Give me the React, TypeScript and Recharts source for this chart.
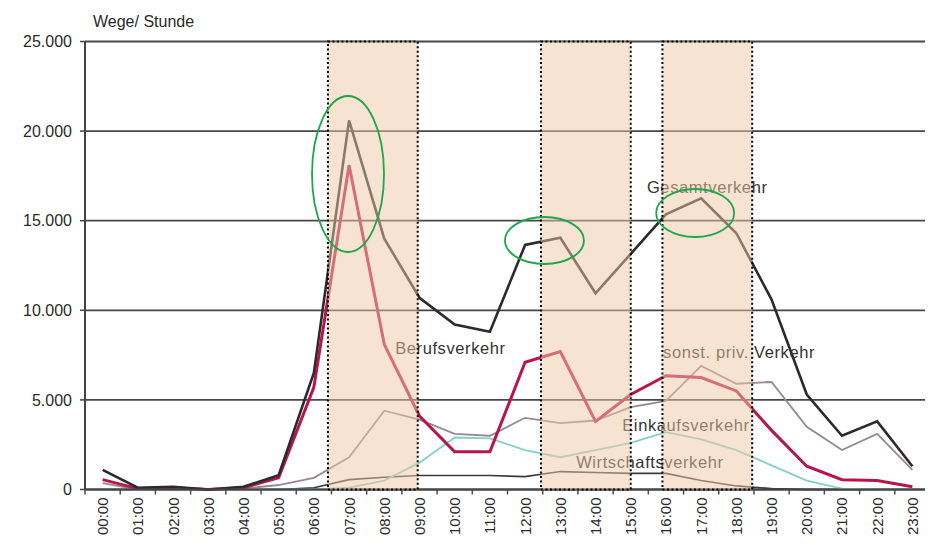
import React from 'react';
import {
  LineChart,
  Line,
  XAxis,
  YAxis,
  CartesianGrid,
  ReferenceArea,
  ReferenceDot,
} from 'recharts';

// ---- data ----
const hours = [
  '00:00', '01:00', '02:00', '03:00', '04:00', '05:00', '06:00', '07:00',
  '08:00', '09:00', '10:00', '11:00', '12:00', '13:00', '14:00', '15:00',
  '16:00', '17:00', '18:00', '19:00', '20:00', '21:00', '22:00', '23:00',
];
const gesamtverkehr = [1100, 100, 150, 0, 150, 800, 6500, 20600, 14000, 10700, 9200, 8800, 13650, 14050, 10950, 13150, 15350, 16250, 14300, 10600, 5300, 3000, 3800, 1300];
const berufsverkehr = [550, 50, 100, 0, 100, 650, 5700, 18100, 8100, 4100, 2100, 2100, 7100, 7700, 3800, 5300, 6350, 6250, 5500, 3300, 1300, 550, 500, 150];
const sonstPrivVerkehr = [350, 0, 50, 0, 50, 250, 650, 1800, 4400, 3900, 3100, 3000, 4000, 3700, 3850, 4600, 4950, 6900, 5900, 6000, 3500, 2200, 3100, 1100];
const einkaufsverkehr = [0, 0, 0, 0, 0, 0, 0, 100, 500, 1500, 2900, 2850, 2200, 1800, 2200, 2600, 3200, 2800, 2200, 1350, 500, 50, 0, 0];
const wirtschaftsverkehr = [0, 0, 0, 0, 0, 0, 100, 550, 680, 780, 780, 780, 720, 1000, 950, 900, 900, 500, 200, 50, 0, 0, 0, 0];

const yTicks = [0, 5000, 10000, 15000, 20000, 25000];

// highlighted periods (hour positions)
const periods = [
  [6.4, 8.95],
  [12.45, 15.0],
  [15.9, 18.45],
];

// series name labels: [text, hour, value]
const seriesLabels: [string, number, number][] = [
  ['Berufsverkehr', 8.31, 7560],
  ['Gesamtverkehr', 15.46, 16545],
  ['sonst. priv. Verkehr', 15.92, 7340],
  ['Einkaufsverkehr', 14.76, 3265],
  ['Wirtschaftsverkehr', 13.45, 1200],
];

// green ellipses: [hour, value, rx, ry]
const ellipses: [number, number, number, number][] = [
  [6.97, 17606, 36, 78],
  [12.55, 13895, 39.5, 23.5],
  [16.83, 15430, 39, 24],
];

const data = hours.map((label, i) => ({
  h: i,
  label,
  gesamt: gesamtverkehr[i],
  beruf: berufsverkehr[i],
  sonst: sonstPrivVerkehr[i],
  einkauf: einkaufsverkehr[i],
  wirtschaft: wirtschaftsverkehr[i],
}));

const xTicks: number[] = [];
for (let i = -1; i < hours.length; i++) {
  xTicks.push(i + 0.5);
  if (i + 1 < hours.length) xTicks.push(i + 1);
}
xTicks.sort((a, b) => a - b);

const FONT = '"Liberation Sans", Arial, sans-serif';

const fmtDe = (v: number) => {
  const s = String(Math.round(v));
  return s.replace(/\B(?=(\d{3})+(?!\d))/g, '.');
};

const XTick = (props: any) => {
  const { x, y, payload } = props;
  const v = payload.value as number;
  if (Math.abs(v - Math.round(v)) > 0.01) {
    return <line x1={x} x2={x} y1={y} y2={y + 5} stroke="#4a4a4a" strokeWidth={1.5} />;
  }
  const ty = y + 8;
  return (
    <text
      x={x}
      y={ty}
      transform={`rotate(-90, ${x}, ${ty})`}
      textAnchor="end"
      dominantBaseline="central"
      fontSize={15}
      fontFamily={FONT}
      fill="#2a2a2a"
    >
      {hours[Math.round(v)]}
    </text>
  );
};

export default function App() {
  return (
    <div style={{ position: 'relative', width: 925, height: 541 }}>
      <div
        style={{
          position: 'absolute',
          left: 85,
          top: 6,
          fontFamily: FONT,
          fontSize: 16,
          lineHeight: '16px',
          color: '#2a2a2a',
          whiteSpace: 'nowrap',
        }}
      >
        Wege/ Stunde
      </div>
      <LineChart
        width={925}
        height={541}
        data={data}
        margin={{ top: 33.5, right: 3, bottom: 4.5, left: 7 }}
      >
        <CartesianGrid vertical={false} stroke="#474747" strokeWidth={1.8} />
        <XAxis
          dataKey="h"
          type="number"
          domain={[-0.5, 23.5]}
          ticks={xTicks}
          interval={0}
          tick={<XTick />}
          tickLine={false}
          tickSize={0}
          tickMargin={0}
          height={55}
          axisLine={{ stroke: '#444', strokeWidth: 2 }}
        />
        <YAxis
          type="number"
          domain={[0, 25000]}
          ticks={yTicks}
          interval={0}
          width={70}
          tickFormatter={fmtDe}
          tick={{ fontSize: 16, fontFamily: FONT, fill: '#2a2a2a' }}
          tickSize={5}
          tickMargin={8}
          tickLine={{ stroke: '#444', strokeWidth: 1.5 }}
          axisLine={{ stroke: '#444', strokeWidth: 2 }}
        />
        <Line dataKey="wirtschaft" type="linear" stroke="#3b3b3b" strokeWidth={1.6} dot={false} isAnimationActive={false} />
        <Line dataKey="einkauf" type="linear" stroke="#86cfc6" strokeWidth={1.8} dot={false} isAnimationActive={false} />
        <Line dataKey="sonst" type="linear" stroke="#978892" strokeWidth={1.8} dot={false} isAnimationActive={false} />
        <Line dataKey="beruf" type="linear" stroke="#b8164a" strokeWidth={3} dot={false} isAnimationActive={false} />
        <Line dataKey="gesamt" type="linear" stroke="#2b2b2b" strokeWidth={2.6} dot={false} isAnimationActive={false} />
        {seriesLabels.map(([text, hx, val]) => (
          <ReferenceDot
            key={text}
            x={hx}
            y={val}
            r={0}
            zIndex={700}
            shape={(p: any) => (
              <text
                x={p.cx}
                y={p.cy}
                fontSize={16.5}
                letterSpacing={0.6}
                fontFamily={FONT}
                fill="#333"
              >
                {text}
              </text>
            )}
          />
        ))}
        {periods.map(([a, b], i) => (
          <ReferenceArea
            key={'p' + i}
            x1={a}
            x2={b}
            y1={0}
            y2={25000}
            zIndex={800}
            fill="#f0c7a3"
            fillOpacity={0.5}
            stroke="#000"
            strokeWidth={2}
            strokeDasharray="2 2.5"
          />
        ))}
        {ellipses.map(([hx, val, rx, ry], i) => (
          <ReferenceDot
            key={'e' + i}
            x={hx}
            y={val}
            r={0}
            zIndex={900}
            shape={(p: any) => (
              <ellipse cx={p.cx} cy={p.cy} rx={rx} ry={ry} fill="none" stroke="#1ea64a" strokeWidth={1.8} />
            )}
          />
        ))}
      </LineChart>
    </div>
  );
}
